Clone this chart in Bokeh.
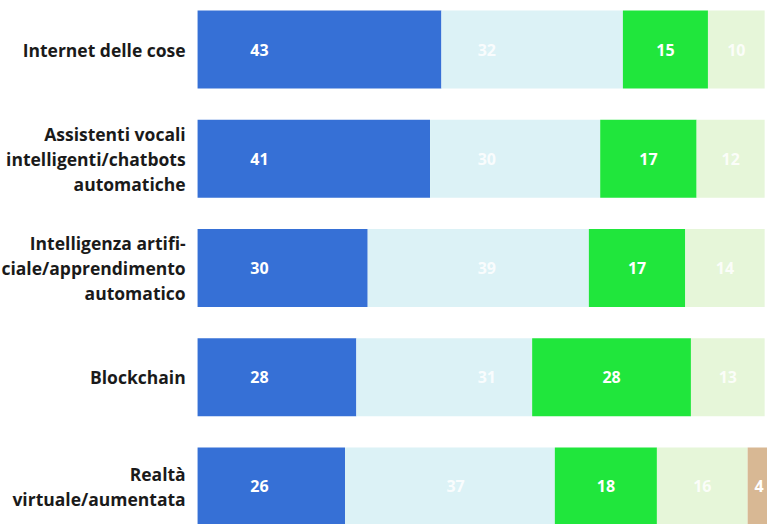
from bokeh.plotting import figure
from bokeh.models import Range1d, ColumnDataSource
from bokeh.core.properties import value
from bokeh.embed import file_html
from bokeh.resources import INLINE

categories = [
    "Internet delle cose",
    "Assistenti vocali\nintelligenti/chatbots\nautomatiche",
    "Intelligenza artifi-\nciale/apprendimento\nautomatico",
    "Blockchain",
    "Realtà\nvirtuale/aumentata",
]
dark_blue = [43, 41, 30, 28, 26]
light_blue = [32, 30, 39, 31, 37]
green = [15, 17, 17, 28, 18]
light_green = [10, 12, 14, 13, 16]
tan = [0, 0, 0, 0, 4]

series = [dark_blue, light_blue, green, light_green, tan]
colors = ["#3670d6", "#dcf2f6", "#20e63c", "#e6f6d9", "#d8b894"]

FONT = "Open Sans"

p = figure(width=767, height=524, output_backend="svg", toolbar_location=None,
           x_range=Range1d(-34.75, 100.5), y_range=Range1d(4.348, -0.449),
           min_border=0, min_border_left=0, min_border_right=0,
           min_border_top=0, min_border_bottom=0)
p.axis.visible = False
p.grid.visible = False
p.outline_line_color = None
p.background_fill_color = "white"
p.border_fill_color = "white"

rows = list(range(len(categories)))
left = [0] * len(rows)
for k, (vals, col) in enumerate(zip(series, colors)):
    right = [l + v for l, v in zip(left, vals)]
    src = ColumnDataSource(dict(y=rows, left=left, right=right))
    p.hbar(y="y", left="left", right="right", height=0.714, source=src,
           fill_color=col, line_color=None)
    # labels
    idx = [i for i in rows if vals[i] > 0]
    if k == 0:
        xs = [9.3] * len(idx)
        align = "left"
    elif k == 1:
        xs = [51 if i < 4 else 45.5 for i in idx]
        align = "center"
    else:
        xs = [(left[i] + right[i]) / 2 for i in idx]
        align = "center"
    lsrc = ColumnDataSource(dict(x=xs, y=[rows[i] for i in idx],
                                 t=[str(vals[i]) for i in idx]))
    alpha = 1.0 if k in (0, 2, 4) else 0.85
    p.text(x="x", y="y", text="t", source=lsrc, text_color="white",
           text_alpha=alpha, text_font=value(FONT), text_font_style="bold",
           text_font_size="16px", text_align=align, text_baseline="middle")
    left = right

csrc = ColumnDataSource(dict(x=[-2.1] * len(rows), y=rows, t=categories))
p.text(x="x", y="y", text="t", source=csrc, text_color="#1a1a1a",
       text_font=value(FONT), text_font_style="bold", text_font_size="17.5px",
       text_align="right", text_baseline="middle", text_line_height=1.05)

open("out.html", "w").write(file_html(p, INLINE))
